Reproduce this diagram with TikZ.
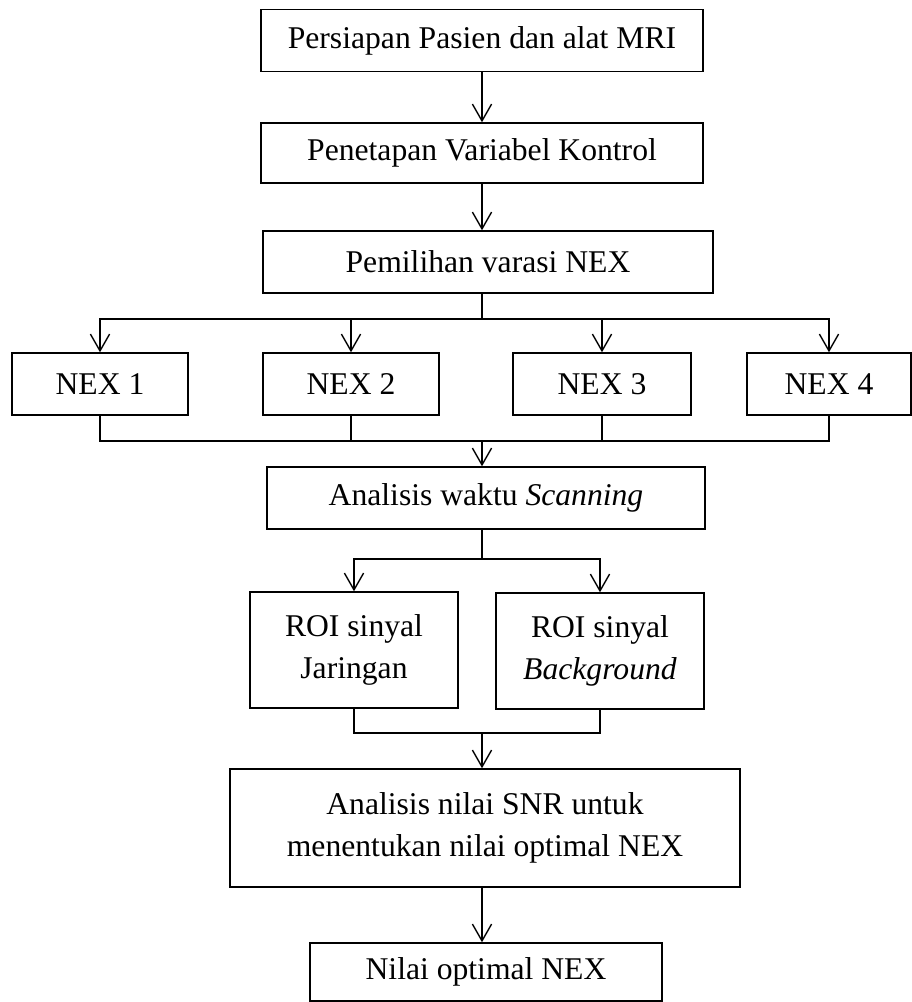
\documentclass[tikz,border=0pt]{standalone}
\usepackage{fontspec}
\setmainfont{Liberation Serif}
\usetikzlibrary{arrows.meta,positioning,calc}

\begin{document}
\begin{tikzpicture}[
  x=0.025cm, y=-0.025cm,
  font=\fontsize{22.5}{30}\selectfont,
  box/.style={draw=black, line width=1pt, align=center, inner sep=0pt, minimum height=1.55cm},
  edge/.style={draw=black, line width=1pt},
  arr/.style={edge, -{Straight Barb[length=4.2mm,width=4.8mm]}}
]
\useasboundingbox (0,0) rectangle (912,1002);
% main column
\node[box, minimum width=11.05cm] (persiapan) at (482,40.5) {Persiapan Pasien dan alat MRI};
\node[box, minimum width=11.05cm, minimum height=1.5cm] (penetapan) at (482,153) {Penetapan Variabel Kontrol};
\draw[arr] (persiapan) -- (penetapan);
\node[box, minimum width=11.25cm] (pemilihan) at (488,262) {Pemilihan varasi NEX};
\draw[arr] (penetapan) -- (pemilihan.north -| penetapan);
% variasi NEX
\node[box, minimum width=4.4cm] (nex1) at (100,384) {NEX 1};
\node[box, minimum width=4.4cm] (nex2) at (351,384) {NEX 2};
\node[box, minimum width=4.45cm] (nex3) at (602,384) {NEX 3};
\node[box, minimum width=4.1cm] (nex4) at (829,384) {NEX 4};
\coordinate (split1) at (482,319);
\draw[edge] (pemilihan.south -| split1) -- (split1);
\foreach \n in {nex1,nex2,nex3,nex4}
  \draw[arr] (split1) -| (\n);
\coordinate (join1) at (482,441);
\foreach \n in {nex1,nex2,nex3,nex4}
  \draw[edge] (\n) |- (join1);
\node[box, minimum width=10.95cm] (waktu) at (486,498) {Analisis waktu \textit{Scanning}};
\draw[arr] (join1) -- (waktu.north -| join1);
% ROI
\node[box, minimum width=5.2cm, minimum height=2.9cm] (roijar) at (354,650) {ROI sinyal\\Jaringan};
\node[box, minimum width=5.2cm, minimum height=2.9cm] (roibg) at (600,651) {ROI sinyal\\\textit{Background}};
\coordinate (split2) at (482,559);
\draw[edge] (waktu.south -| split2) -- (split2);
\draw[arr] (split2) -| (roijar);
\draw[arr] (split2) -| (roibg);
\coordinate (join2) at (482,733);
\draw[edge] (roijar) |- (join2);
\draw[edge] (roibg) |- (join2);
\node[box, minimum width=12.75cm, minimum height=2.95cm] (snr) at (485,828) {Analisis nilai SNR untuk\\menentukan nilai optimal NEX};
\draw[arr] (join2) -- (snr.north -| join2);
\node[box, minimum width=8.8cm, minimum height=1.45cm] (optimal) at (486,972) {Nilai optimal NEX};
\draw[arr] (snr.south -| join2) -- (optimal.north -| join2);
\end{tikzpicture}
\end{document}
